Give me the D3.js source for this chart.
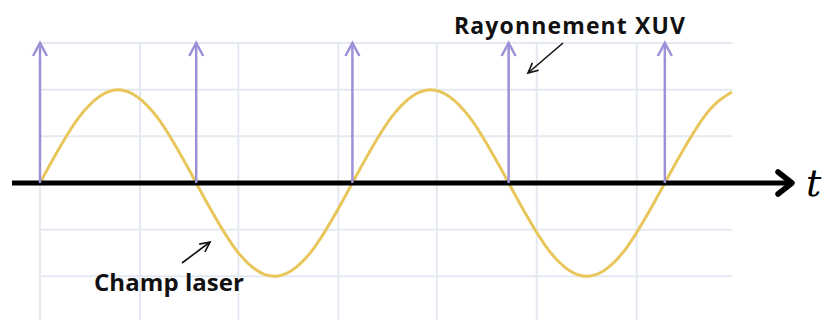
<!DOCTYPE html>
<html>
<head>
<meta charset="utf-8">
<script src="https://cdn.jsdelivr.net/npm/d3@7/dist/d3.min.js"></script>
<style>
html,body{margin:0;padding:0;background:#fff;}
svg{display:block;}
</style>
</head>
<body>
<svg id="chart" width="827" height="320"></svg>
<script>
// time in laser periods, field in grid units
const laserT = [0,0.125,0.25,0.375,0.5,0.625,0.75,0.875,1,1.125,1.25,1.375,1.5,1.625,1.75,1.875,2,2.125,2.215];
const laserE = [0,1.41,2,1.41,0,-1.41,-2,-1.41,0,1.41,2,1.41,0,-1.41,-2,-1.41,0,1.41,1.95];
const xuvT = [0,0.5,1,1.5,2];
const xuvHeight = 3;
const gridXT = [0,0.32,0.635,0.955,1.27,1.59,1.91];
const gridYV = [-2,-1,1,2,3];
const labels = {xuv:"Rayonnement XUV", laser:"Champ laser", axis:"t"};

const svg = d3.select("#chart");
const x = d3.scaleLinear().domain([0,2.215]).range([40,732]);
const y = d3.scaleLinear().domain([0,3]).range([183,43]);

// grid
const g = svg.append("g");
g.selectAll("line.gv").data(gridXT).join("line")
  .attr("x1",d=>x(d)).attr("x2",d=>x(d)).attr("y1",y(3)).attr("y2",320)
  .attr("stroke","#e4e9f1").attr("stroke-width",2);
g.selectAll("line.gh").data(gridYV).join("line")
  .attr("x1",x(0)).attr("x2",x(2.215)).attr("y1",d=>y(d)).attr("y2",d=>y(d))
  .attr("stroke","#e4e9f1").attr("stroke-width",2);

// laser field
const pts = laserT.map((t,i)=>[t,laserE[i]]);
svg.append("path").datum(pts)
  .attr("d", d3.line().x(d=>x(d[0])).y(d=>y(d[1])).curve(d3.curveNatural))
  .attr("fill","none").attr("stroke","#e8c65c").attr("stroke-width",3);

// time axis
svg.append("line").attr("x1",12).attr("x2",790).attr("y1",y(0)).attr("y2",y(0))
  .attr("stroke","#000").attr("stroke-width",5);
svg.append("path").attr("d",`M778,172 L792,${y(0)} L778,194`)
  .attr("fill","none").attr("stroke","#000").attr("stroke-width",5.5).attr("stroke-linecap","round").attr("stroke-linejoin","round");
svg.append("text").attr("x",806).attr("y",196).text(labels.axis)
  .attr("font-family","DejaVu Serif").attr("font-style","italic").attr("font-size",38).attr("fill","#000");

// XUV arrows
const xa = svg.append("g").attr("stroke","#9d90d8").attr("stroke-width",2.5).attr("fill","none");
xa.selectAll("line").data(xuvT).join("line")
  .attr("x1",d=>x(d)).attr("x2",d=>x(d)).attr("y1",y(0)).attr("y2",y(xuvHeight));
xa.selectAll("path").data(xuvT).join("path")
  .attr("d",d=>`M${x(d)-7},${y(xuvHeight)+13} L${x(d)},${y(xuvHeight)} L${x(d)+7},${y(xuvHeight)+13}`);

// labels
svg.append("text").attr("x",454).attr("y",34).text(labels.xuv)
  .attr("textLength",231).attr("lengthAdjust","spacing")
  .attr("font-family","Open Sans").attr("font-weight","bold").attr("font-size",23).attr("fill","#111");
svg.append("text").attr("x",94).attr("y",291).text(labels.laser)
  .attr("textLength",150).attr("lengthAdjust","spacing")
  .attr("font-family","Open Sans").attr("font-weight","bold").attr("font-size",24).attr("fill","#111");

// pointer arrows
function pointer(x1,y1,x2,y2){
  svg.append("line").attr("x1",x1).attr("y1",y1).attr("x2",x2).attr("y2",y2)
    .attr("stroke","#111").attr("stroke-width",1.6);
  const a = Math.atan2(y2-y1,x2-x1), L=11, w=0.45;
  svg.append("path").attr("d",`M${x2-L*Math.cos(a-w)},${y2-L*Math.sin(a-w)} L${x2},${y2} L${x2-L*Math.cos(a+w)},${y2-L*Math.sin(a+w)}`)
    .attr("fill","none").attr("stroke","#111").attr("stroke-width",1.6);
}
pointer(563,43,528,73);
pointer(182,263,210,242);
</script>
</body>
</html>
